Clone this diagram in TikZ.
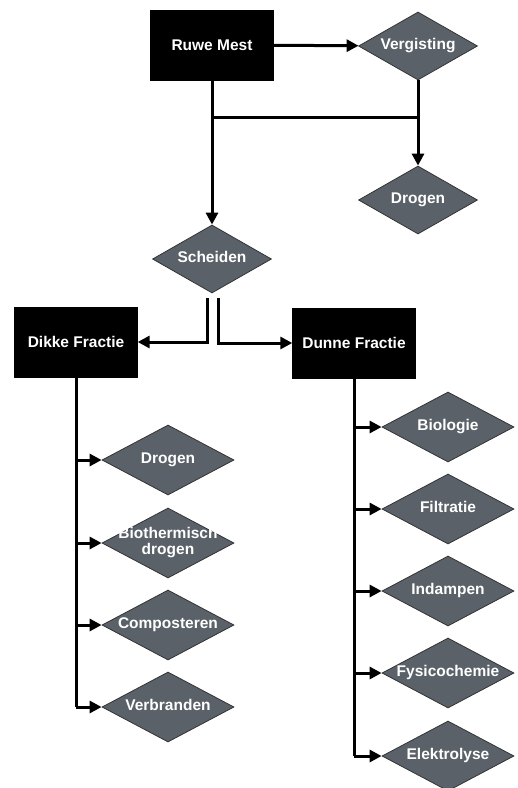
\documentclass[tikz,border=0pt]{standalone}
\usepackage{fontspec}
\setmainfont{Liberation Sans}
\usepackage{tikz}
\usetikzlibrary{shapes.geometric,arrows.meta,positioning,calc}
\definecolor{dgrey}{HTML}{5A6168}
\newcommand{\dtext}[1]{\makebox[0pt]{\begin{tabular}{@{}c@{}}#1\end{tabular}}}
\tikzset{
  mbox/.style={
    rectangle, draw=black, fill=black, text=white,
    minimum width=123pt, minimum height=70pt,
    font=\fontsize{15.5}{16}\selectfont\bfseries, inner sep=0pt
  },
  mdiam/.style={
    diamond, draw=black!80, fill=dgrey, text=white, line width=0.8pt,
    minimum width=132pt, minimum height=70pt,
    font=\fontsize{15.5}{15}\selectfont\bfseries, inner sep=0pt
  },
  mdiamtop/.style={mdiam, minimum width=119pt, minimum height=68pt},
  marrow/.style={-{Triangle[length=12pt,width=12pt]}, line width=3pt, draw=black},
  mline/.style={line width=3pt, draw=black},
}
\begin{document}
\begin{tikzpicture}[x=1pt,y=-1pt]
  \useasboundingbox (0,0) rectangle (518,788);
  \node (ruwe) [mbox] at (212,45) {Ruwe Mest};
  \node (verg) [mdiamtop] at (418,46) {\dtext{Vergisting}};
  \node (drogen) [mdiamtop] at (418,200) {\dtext{Drogen}};
  \node (scheid) [mdiamtop] at (212,259) {\dtext{Scheiden}};
  \node (dikke) [mbox] at (76,342) {Dikke Fractie};
  \node (dunne) [mbox] at (354,343) {Dunne Fractie};
  % dikke fractie
  \node (dk1) [mdiam] at (168,460) {\dtext{Drogen}};
  \node (dk2) [mdiam] at (168,543) {\dtext{Biothermisch\\drogen}};
  \node (dk3) [mdiam] at (168,625) {\dtext{Composteren}};
  \node (dk4) [mdiam] at (168,707) {\dtext{Verbranden}};
  % dunne fractie
  \node (dn1) [mdiam] at (448,427) {\dtext{Biologie}};
  \node (dn2) [mdiam] at (448,509) {\dtext{Filtratie}};
  \node (dn3) [mdiam] at (448,591) {\dtext{Indampen}};
  \node (dn4) [mdiam] at (448,673) {\dtext{Fysicochemie}};
  \node (dn5) [mdiam] at (448,756) {\dtext{Elektrolyse}};
  \coordinate (j1) at (212,117);
  \coordinate (j2) at (418,117);
  \coordinate (sl) at (207,298);
  \coordinate (sr) at (218,298);
  \draw[marrow] (ruwe) -- (verg);
  \draw[marrow] (ruwe) -- (scheid);
  \draw[marrow] (verg) -- (drogen);
  \draw[mline] (j1) -- (j2);
  \draw[marrow] (sl) |- (dikke);
  \draw[marrow] (sr) |- (dunne);
  \draw[mline] (dikke.south) -- (dikke.south |- dk4.west);
  \foreach \n in {dk1,dk2,dk3,dk4}
    \draw[marrow] (dikke.south |- \n.west) -- (\n.west);
  \draw[mline] (dunne.south) -- (dunne.south |- dn5.west);
  \foreach \n in {dn1,dn2,dn3,dn4,dn5}
    \draw[marrow] (dunne.south |- \n.west) -- (\n.west);
\end{tikzpicture}
\end{document}
